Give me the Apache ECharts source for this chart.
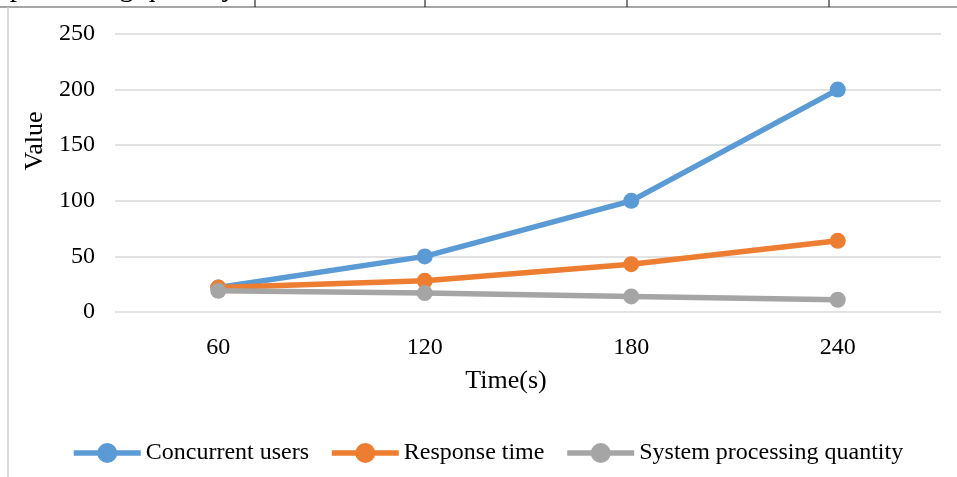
<!DOCTYPE html>
<html>
<head>
<meta charset="utf-8">
<script src="https://cdn.jsdelivr.net/npm/echarts@6/dist/echarts.min.js"></script>
<style>
  html, body { margin: 0; padding: 0; background: #fff; }
  #chart { width: 957px; height: 477px; }
</style>
</head>
<body>
<div id="chart"></div>
<script>
// data
const categories = ['60', '120', '180', '240']
const concurrentUsers = [22, 50, 100, 200]
const responseTime = [22, 28, 43, 64]
const processingQuantity = [19, 17, 14, 11]
const seriesNames = ['Concurrent users', 'Response time', 'System processing quantity']
const colors = ['#5B9BD5', '#ED7D31', '#A5A5A5']

const font = '"Liberation Serif", "Times New Roman", serif'

function lineSeries(name, data, color) {
  return {
    name: name,
    type: 'line',
    data: data,
    symbol: 'circle',
    symbolSize: 16,
    lineStyle: { color: color, width: 5.5 },
    itemStyle: { color: color },
    emphasis: { disabled: true }
  }
}

// bits of the table row cut off above the chart
function tableLine(x) {
  return { type: 'line', shape: { x1: x, y1: 0, x2: x, y2: 7 }, style: { stroke: '#000', lineWidth: 1 } }
}

let chart = echarts.init(document.getElementById('chart'))
let option = {
  animation: false,
  color: colors,
  textStyle: { fontFamily: font },
  grid: { left: 115, right: 16, top: 34, bottom: 165, containLabel: false },
  legend: {
    bottom: 7,
    left: 66,
    itemWidth: 67,
    itemHeight: 25,
    itemGap: 20,
    lineStyle: { width: 5.5 },
    textStyle: { fontFamily: font, fontSize: 24, color: '#000' },
    data: seriesNames
  },
  xAxis: {
    type: 'category',
    data: categories,
    boundaryGap: true,
    name: 'Time(s)',
    nameLocation: 'middle',
    nameGap: 56,
    nameTextStyle: { fontFamily: font, fontSize: 26, color: '#000', padding: [0, 44, 0, 0] },
    axisLine: { show: false },
    axisTick: { show: false },
    axisLabel: { fontFamily: font, fontSize: 24, color: '#000', margin: 24 }
  },
  yAxis: {
    type: 'value',
    min: 0,
    max: 250,
    interval: 50,
    name: 'Value',
    nameLocation: 'middle',
    nameGap: 65,
    nameTextStyle: { fontFamily: font, fontSize: 26, color: '#000', padding: [0, 0, 0, 64] },
    axisLine: { show: false },
    axisTick: { show: false },
    axisLabel: { fontFamily: font, fontSize: 24, color: '#000', margin: 20 },
    splitLine: { lineStyle: { color: '#D9D9D9', width: 1.5 } }
  },
  graphic: [
    { type: 'line', shape: { x1: 0, y1: 7, x2: 957, y2: 7 }, style: { stroke: '#888', lineWidth: 1.5 } },
    { type: 'line', shape: { x1: 8, y1: 7, x2: 8, y2: 477 }, style: { stroke: '#CCC', lineWidth: 1.5 } },
    tableLine(255),
    tableLine(425),
    tableLine(627),
    tableLine(829),
    {
      type: 'text', x: 236, y: 3, z: -1,
      style: { text: 'processing quantity', font: '29px ' + font, fill: '#000', align: 'right', verticalAlign: 'bottom' }
    }
  ],
  series: [
    lineSeries(seriesNames[0], concurrentUsers, colors[0]),
    lineSeries(seriesNames[1], responseTime, colors[1]),
    lineSeries(seriesNames[2], processingQuantity, colors[2])
  ]
}
chart.setOption(option)
</script>
</body>
</html>
